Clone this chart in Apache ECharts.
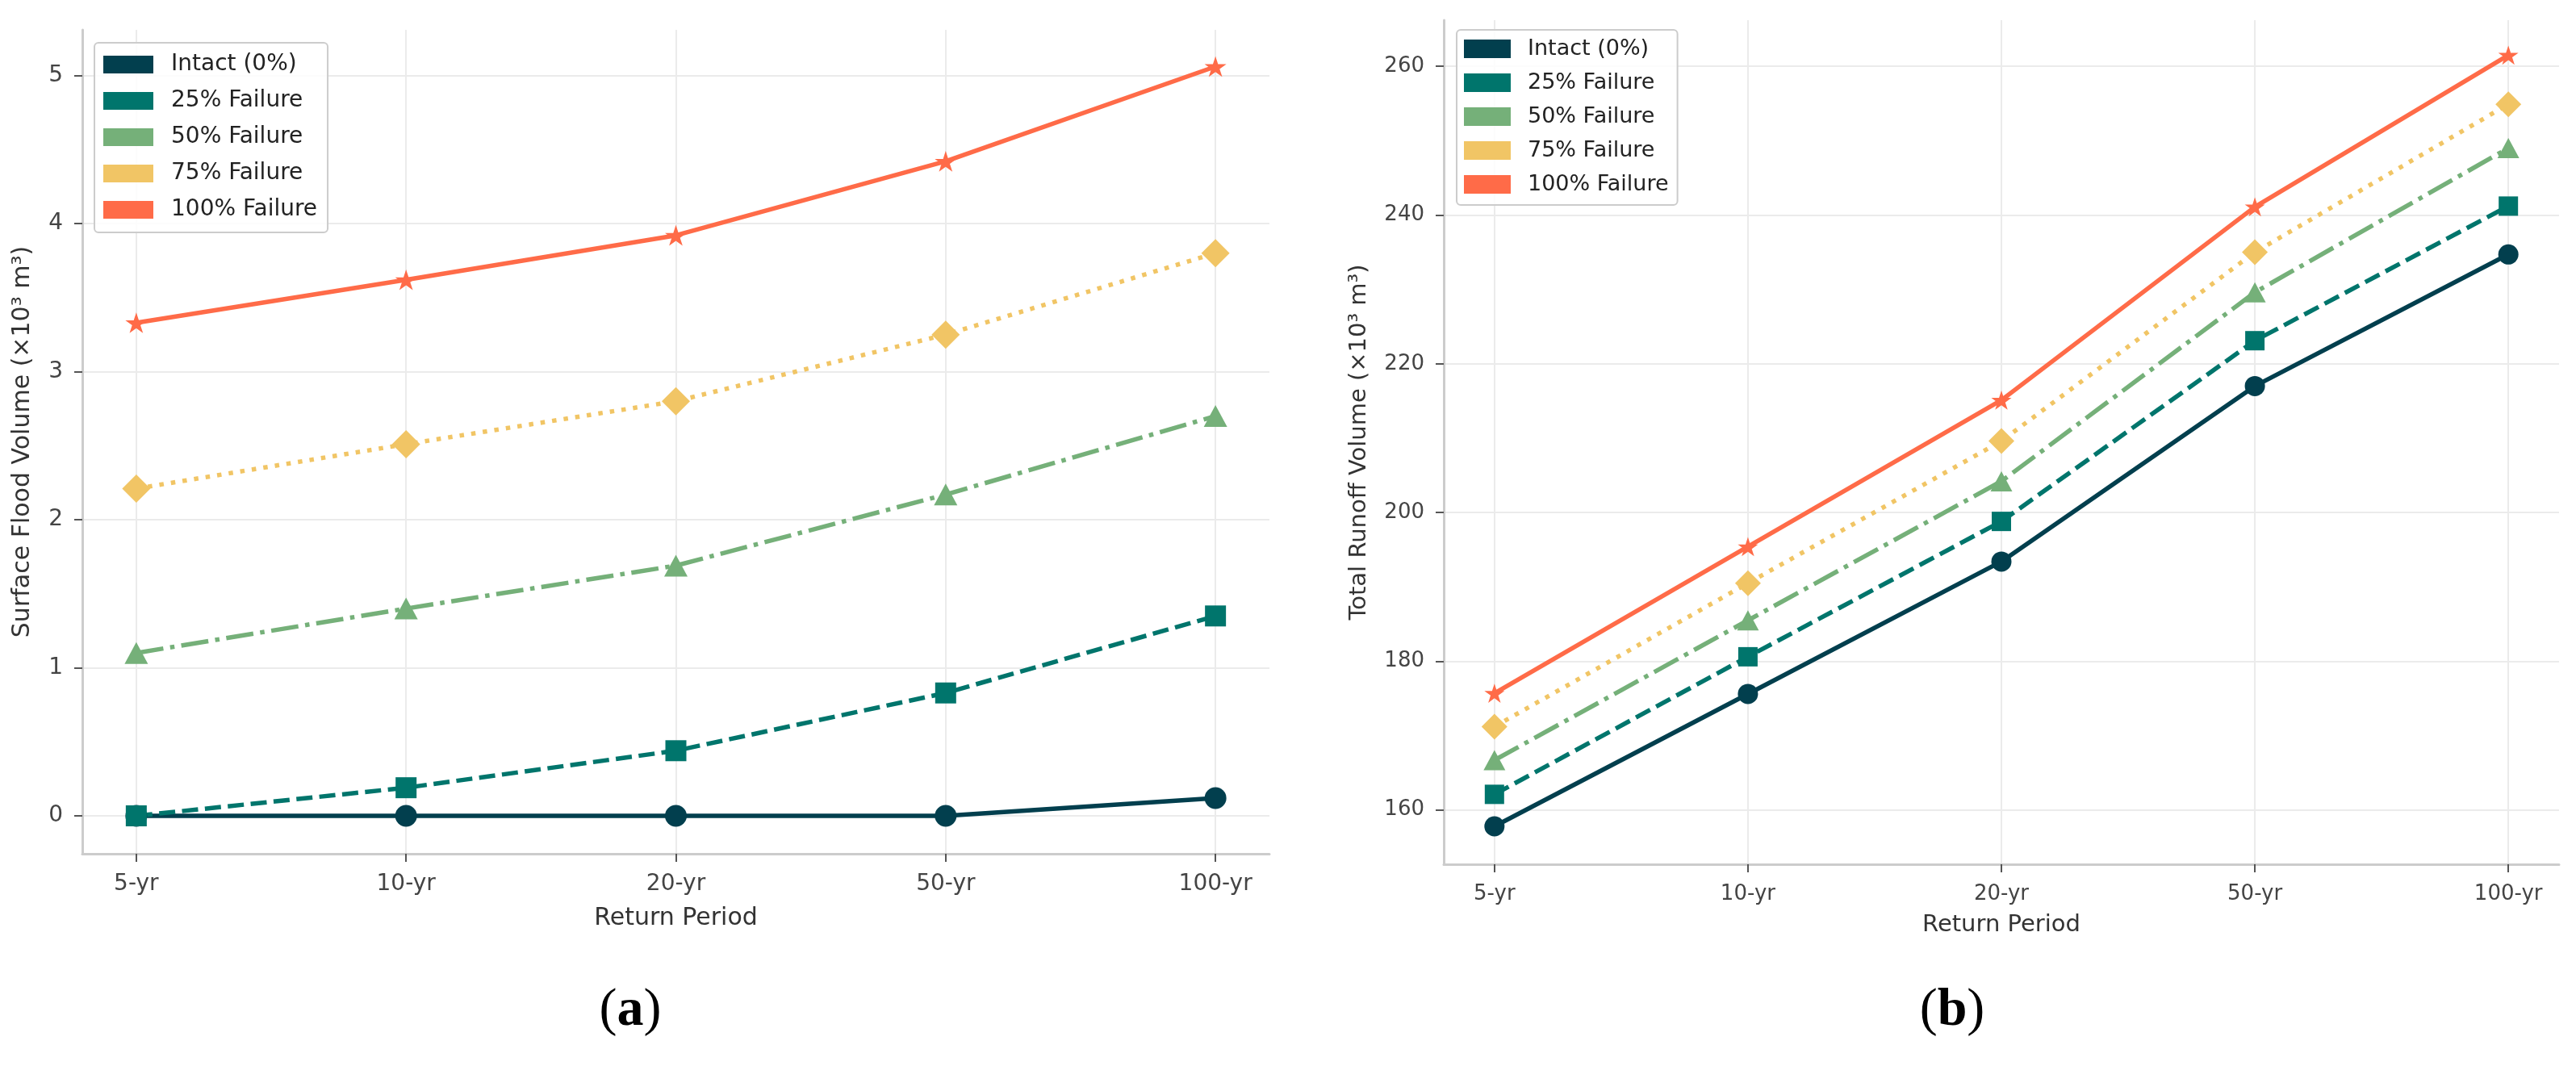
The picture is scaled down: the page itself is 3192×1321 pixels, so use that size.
<!DOCTYPE html>
<html lang="en">
<head>
<meta charset="UTF-8">
<title>Flood and runoff volume</title>
<style>
    html, body { margin: 0; padding: 0; background: #fff; }
    #chart { width: 3192px; height: 1321px; }
</style>
</head>
<body>
<div id="chart"></div>
<script src="https://cdn.jsdelivr.net/npm/echarts@6/dist/echarts.min.js"></script>
<script>
    // data
    var categories = ['5-yr', '10-yr', '20-yr', '50-yr', '100-yr'];
    var scenarioNames = ['Intact (0%)', '25% Failure', '50% Failure', '75% Failure', '100% Failure'];

    // (a) surface flood volume, x10^3 m3
    var floodIntact = [0, 0, 0, 0, 0.12];
    var flood25 = [0, 0.19, 0.44, 0.83, 1.35];
    var flood50 = [1.10, 1.40, 1.69, 2.17, 2.70];
    var flood75 = [2.21, 2.51, 2.80, 3.25, 3.80];
    var flood100 = [3.33, 3.62, 3.92, 4.42, 5.06];

    // (b) total runoff volume, x10^3 m3
    var runoffIntact = [157.8, 175.6, 193.4, 217.0, 234.7];
    var runoff25 = [162.1, 180.6, 198.8, 223.1, 241.2];
    var runoff50 = [166.7, 185.5, 204.2, 229.6, 249.0];
    var runoff75 = [171.2, 190.5, 209.6, 235.0, 254.9];
    var runoff100 = [175.7, 195.4, 215.1, 241.1, 261.5];

    var floodTicks = [0, 1, 2, 3, 4, 5];
    var runoffTicks = [160, 180, 200, 220, 240, 260];
    var xTicks = [0, 1, 2, 3, 4];

    var colors = ['#023f4e', '#00756c', '#75b079', '#f1c565', '#ff6b48'];
    var dashes = ['solid', [20, 8.5], [34, 8.5, 5.5, 8.5], [5.5, 9], 'solid'];

    // matplotlib-like five point star
    function starPath() {
        var pts = [];
        for (var i = 0; i < 10; i++) {
            var r = i % 2 === 0 ? 50 : 50 * 0.381966;
            var a = -Math.PI / 2 + i * Math.PI / 5;
            pts.push((50 + r * Math.cos(a)).toFixed(2) + ' ' + (50 + r * Math.sin(a)).toFixed(2));
        }
        return 'path://M' + pts.join(' L') + ' Z';
    }
    var symbols = ['circle', 'rect', 'triangle', 'diamond', starPath()];
    var sizesA = [27, 26, [29, 27], 35, 27];
    var sizesB = [25, 24, [27, 25], 32, 25];

    function toPoints(values) {
        return values.map(function (v, i) { return [i, v]; });
    }

    function makeSeries(idx, values, axisIndex, sizes) {
        return {
            name: scenarioNames[idx],
            type: 'line',
            xAxisIndex: axisIndex,
            yAxisIndex: axisIndex,
            data: toPoints(values),
            symbol: symbols[idx],
            symbolSize: sizes[idx],
            symbolKeepAspect: idx === 4,
            showSymbol: true,
            color: colors[idx],
            itemStyle: { color: colors[idx], borderWidth: 0 },
            lineStyle: { color: colors[idx], width: 5.5, type: dashes[idx] },
            emphasis: { disabled: true },
            animation: false
        };
    }

    var gridColor = '#ebebeb';
    var spineColor = '#cccccc';
    var font = 'DejaVu Sans';

    function xAxisFor(gridIndex, labelSize, nameSize, nameGap) {
        return {
            type: 'value',
            gridIndex: gridIndex,
            min: -0.2,
            max: 4.2,
            name: 'Return Period',
            nameLocation: 'middle',
            nameGap: nameGap,
            nameTextStyle: { fontFamily: font, fontSize: nameSize, color: '#333' },
            axisLine: { show: true, onZero: false, lineStyle: { color: spineColor, width: 3 } },
            axisTick: { show: true, length: 10, customValues: xTicks, lineStyle: { color: '#555', width: 2 } },
            axisLabel: {
                customValues: xTicks,
                margin: 24,
                fontFamily: font,
                fontSize: labelSize,
                color: '#444',
                formatter: function (v) { return categories[Math.round(v)]; }
            },
            splitLine: { show: true, lineStyle: { color: gridColor, width: 2 } }
        };
    }

    function yAxisFor(gridIndex, min, max, ticks, name, labelSize, nameSize, nameGap) {
        return {
            type: 'value',
            gridIndex: gridIndex,
            min: min,
            max: max,
            name: name,
            nameLocation: 'middle',
            nameGap: nameGap,
            nameTextStyle: { fontFamily: font, fontSize: nameSize, color: '#333' },
            axisLine: { show: true, onZero: false, lineStyle: { color: spineColor, width: 3 } },
            axisTick: { show: true, length: 10, customValues: ticks, lineStyle: { color: '#555', width: 2 } },
            axisLabel: { customValues: ticks, margin: 24, fontFamily: font, fontSize: labelSize, color: '#444' },
            splitLine: { show: true, lineStyle: { color: gridColor, width: 2 } }
        };
    }

    function legendFor(left, top, w, h, gap, size, pad, textPad) {
        return {
            left: left,
            top: top,
            orient: 'vertical',
            icon: 'rect',
            itemWidth: w,
            itemHeight: h,
            itemGap: gap,
            padding: pad,
            backgroundColor: 'rgba(255,255,255,0.85)',
            borderColor: '#cccccc',
            borderWidth: 2,
            borderRadius: 5,
            selectedMode: false,
            data: scenarioNames,
            itemStyle: { borderWidth: 0 },
            textStyle: { fontFamily: font, fontSize: size, color: '#222', padding: [0, 0, 0, textPad] }
        };
    }

    var myChart = echarts.init(document.getElementById('chart'), null, { renderer: 'canvas' });

    var series = [];
    [floodIntact, flood25, flood50, flood75, flood100].forEach(function (vals, i) {
        series.push(makeSeries(i, vals, 0, sizesA));
    });
    [runoffIntact, runoff25, runoff50, runoff75, runoff100].forEach(function (vals, i) {
        series.push(makeSeries(i, vals, 1, sizesB));
    });

    var option = {
        backgroundColor: '#ffffff',
        animation: false,
        grid: [
            { left: 102, top: 37, width: 1471, height: 1021 },
            { left: 1789, top: 25, width: 1382, height: 1046 }
        ],
        xAxis: [
            xAxisFor(0, 28, 30, 65),
            xAxisFor(1, 26, 29, 61)
        ],
        yAxis: [
            yAxisFor(0, -0.256, 5.308, floodTicks, 'Surface Flood Volume (×10³ m³)', 28, 30, 59),
            yAxisFor(1, 152.7, 266.2, runoffTicks, 'Total Runoff Volume (×10³ m³)', 26, 29, 90)
        ],
        legend: [
            legendFor(117, 53, 62, 22, 17, 28, [13, 13, 14, 11], 17),
            legendFor(1805, 37, 58, 23, 15, 27, [10, 11, 12, 9], 16)
        ],
        graphic: [
            {
                type: 'text', x: 781, y: 1253,
                style: {
                    text: '{p|(}{b|a}{p|)}',
                    align: 'center', verticalAlign: 'middle',
                    rich: {
                        p: { fontFamily: 'Liberation Serif', fontSize: 66, fill: '#000' },
                        b: { fontFamily: 'Liberation Serif', fontSize: 66, fontWeight: 'bold', fill: '#000' }
                    }
                }
            },
            {
                type: 'text', x: 2419, y: 1253,
                style: {
                    text: '{p|(}{b|b}{p|)}',
                    align: 'center', verticalAlign: 'middle',
                    rich: {
                        p: { fontFamily: 'Liberation Serif', fontSize: 66, fill: '#000' },
                        b: { fontFamily: 'Liberation Serif', fontSize: 66, fontWeight: 'bold', fill: '#000' }
                    }
                }
            }
        ],
        series: series
    };

    myChart.setOption(option);
</script>
</body>
</html>
